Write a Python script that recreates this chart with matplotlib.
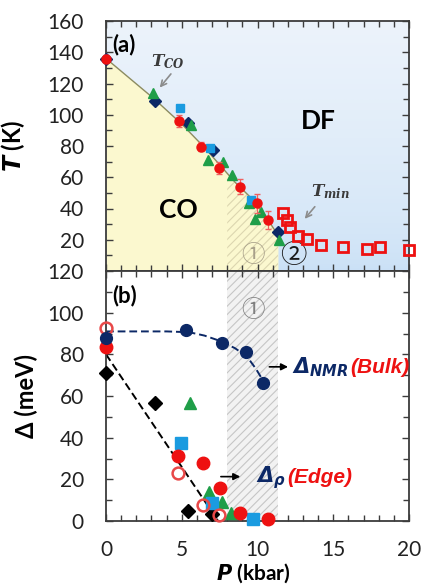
import numpy as np
import matplotlib
matplotlib.use('Agg')
import matplotlib.pyplot as plt
from matplotlib.colors import LinearSegmentedColormap
from matplotlib.ticker import MultipleLocator, FuncFormatter

# ---- panel (a): transition temperatures vs pressure
co_red_P = [0, 4.82, 6.3, 7.46, 8.84, 9.99, 10.67]
co_red_T = [136, 96, 79.5, 66, 54, 43.3, 32.6]
co_red_err = [2, 4, 3, 4, 5, 6, 6]
co_navy_P = [0, 3.23, 5.39, 7.08, 11.33]
co_navy_T = [136, 109, 95, 77.4, 24.8]
co_blue_P = [4.88, 6.86, 9.6]
co_blue_T = [104.5, 78.5, 45.4]
co_green_P = [3.08, 5.6, 6.75, 7.7, 8.29, 9.46, 9.83, 10.23, 11.42]
co_green_T = [114, 93.5, 71, 70, 61.5, 43.5, 33, 38, 20]
tmin_P = [11.7, 11.93, 12.15, 12.7, 13.25, 14.2, 15.66, 17.2, 18.1, 20.0]
tmin_T = [37, 32.6, 28.4, 22.6, 20.3, 16.6, 15.1, 14.3, 15.6, 13.4]
# guide line T_CO(P), boundary of the CO region
tco_line_P = [0, 3.2, 5, 6.5, 7.5, 8.5, 9.5, 10.5, 11.35]
tco_line_T = [136, 110, 94, 79, 68, 57, 47.5, 35.5, 23]
region1_P = [8.0, 11.35]

# ---- panel (b): gaps vs pressure
nmr_P = [0, 5.26, 7.63, 9.24, 10.34]
nmr_D = [87.7, 91.7, 85.3, 81, 66.1]
red_P = [0, 4.77, 6.38, 7.52, 8.84, 10.7]
red_D = [83.4, 31, 27.7, 15.7, 3.7, 1.0]
redopen_P = [0, 4.77, 6.38, 7.47]
redopen_D = [92.8, 22.9, 7.7, 2.9]
black_P = [0, 3.23, 5.43, 7.0]
black_D = [70.9, 56.5, 5, 3.4]
green_P = [5.54, 6.81, 7.63, 8.25]
green_D = [56.5, 14.1, 9.3, 4.0]
blue_P = [4.95, 6.97, 9.72]
blue_D = [37.6, 8.5, 0.8]
nmr_fit_P = [0, 2, 4, 5.5, 6.5, 7.5, 8.5, 9.3, 9.9, 10.4]
nmr_fit_D = [91, 91, 91, 90.6, 89, 86.5, 83, 79, 73, 67]
edge_fit_P = [0, 7.4]
edge_fit_D = [80, 0]

RED = '#ee1111'
NAVY = '#0c2866'
GREEN = '#1f9e48'
LBLUE = '#1a9be0'

plt.rcParams['font.family'] = ['Lato', 'DejaVu Sans']
plt.rcParams['mathtext.fontset'] = 'custom'
plt.rcParams['mathtext.it'] = 'DejaVu Serif:italic:bold'
plt.rcParams['mathtext.sf'] = 'DejaVu Sans:italic:bold'
plt.rcParams['mathtext.rm'] = 'DejaVu Sans:bold'
plt.rcParams['hatch.linewidth'] = 0.8

fig = plt.figure(figsize=(4.26, 5.88), dpi=100)
L, W, H = 106 / 426, 303 / 426, 250 / 588
ax1 = fig.add_axes([L, 1 - 271 / 588, W, H])
ax2 = fig.add_axes([L, 1 - 521 / 588, W, H])


def style_axis(ax, ymax):
    ax.set_xlim(0, 20)
    ax.set_ylim(0, ymax)
    ax.xaxis.set_major_locator(MultipleLocator(5))
    ax.xaxis.set_minor_locator(MultipleLocator(1))
    ax.yaxis.set_major_locator(MultipleLocator(20))
    ax.yaxis.set_minor_locator(MultipleLocator(10))
    ax.tick_params(which='both', direction='in', top=True, right=True,
                   color='#3c3c3c', width=1.0, labelsize=15, labelcolor='#222222')
    ax.tick_params(which='major', length=5)
    ax.tick_params(which='minor', length=4)
    ax.tick_params(axis='y', pad=16)
    ax.tick_params(axis='x', pad=14)
    for s in ax.spines.values():
        s.set_color('#3c3c3c')
        s.set_linewidth(1.3)


# ---------------- panel (a)
style_axis(ax1, 160)
ax1.tick_params(labelbottom=False)
ax1.yaxis.set_major_formatter(FuncFormatter(lambda v, p: '' if v == 0 else '%d' % v))

grad = np.linspace(0, 1, 256) ** 0.6
grad = np.vstack([grad, grad]).T
cmap = LinearSegmentedColormap.from_list('df', ['#c9e0f6', '#ecf3fb'])
ax1.imshow(grad, extent=[0, 20, 0, 160], aspect='auto', cmap=cmap,
           origin='lower', zorder=0)
ax1.fill_between(tco_line_P, 0, tco_line_T, color='#fbf8cf', lw=0, zorder=1)
ph = np.linspace(region1_P[0], region1_P[1], 40)
th = np.interp(ph, tco_line_P, tco_line_T)
ax1.fill_between(ph, 0, th, facecolor='none', hatch='////',
                 edgecolor='#dcd6b0', lw=0, zorder=1.5)
ax1.plot(tco_line_P, tco_line_T, color='#8c8c60', lw=1.0, zorder=2)

ax1.plot(co_navy_P, co_navy_T, 'D', color=NAVY, ms=6, clip_on=False, zorder=4)
ax1.plot(co_green_P, co_green_T, '^', color=GREEN, ms=6.5, clip_on=False, zorder=4)
ax1.plot(co_blue_P, co_blue_T, 's', color=LBLUE, ms=5.5, clip_on=False, zorder=4)
ax1.errorbar(co_red_P, co_red_T, yerr=co_red_err, fmt='o', color=RED, ms=6.5,
             ecolor='#f06060', elinewidth=0.9, capsize=2.5, clip_on=False, zorder=5)
ax1.plot(tmin_P, tmin_T, 's', mfc='none', mec=RED, mew=2, ms=7.5,
         clip_on=False, zorder=6)

ax1.text(0.4, 145, '(a)', fontsize=16, fontweight='bold', va='center', zorder=7)
ax1.text(4.1, 134, r'$T_{CO}$', fontsize=12, color='#3a3a3a', ha='center', va='center')
ax1.annotate('', xy=(3.43, 116), xytext=(4.4, 127.5),
             arrowprops=dict(arrowstyle='->', color='#8c8c8c', lw=1.2))
ax1.text(14.8, 51, r'$T_{min}$', fontsize=12, color='#3a3a3a', ha='center', va='center')
ax1.annotate('', xy=(13.0, 32), xytext=(13.9, 42.5),
             arrowprops=dict(arrowstyle='->', color='#8c8c8c', lw=1.2))
ax1.text(14.0, 96, 'DF', fontsize=19, fontweight='bold', ha='center', va='center')
ax1.text(4.75, 39, 'CO', fontsize=19, fontweight='bold', ha='center', va='center')
ax1.text(9.72, 9.6, '①', fontsize=17, color='#a8a08a', ha='center', va='center',
         family=['Noto Sans CJK JP', 'DejaVu Sans'])
ax1.text(12.36, 10.2, '②', fontsize=19, color='#1a1a1a', ha='center', va='center',
         family=['Noto Sans CJK JP', 'DejaVu Sans'])

ax1.set_ylabel(r'$\mathsf{T}$ (K)', fontsize=17, fontweight='bold')
ax1.yaxis.set_label_coords(-0.26, 0.5)

# ---------------- panel (b)
style_axis(ax2, 120)
ax2.axvspan(region1_P[0], region1_P[1], facecolor='#f2f2f2', hatch='////',
            edgecolor='#c6c6c6', lw=0, zorder=0)
ax2.plot(nmr_fit_P, nmr_fit_D, '--', color=NAVY, lw=1.4, dashes=(4, 2), zorder=2)
ax2.plot(edge_fit_P, edge_fit_D, '--', color='black', lw=1.4, dashes=(4, 2), zorder=2)

ax2.plot(black_P, black_D, 'D', color='black', ms=7.5, clip_on=False, zorder=4)
ax2.plot(green_P, green_D, '^', color=GREEN, ms=8.5, clip_on=False, zorder=4)
ax2.plot(blue_P, blue_D, 's', color=LBLUE, ms=8, clip_on=False, zorder=4)
ax2.plot(red_P, red_D, 'o', color=RED, ms=9, clip_on=False, zorder=5)
ax2.plot(redopen_P, redopen_D, 'o', mfc='none', mec='#e84848', mew=1.8, ms=8.5,
         clip_on=False, zorder=5)
ax2.plot(nmr_P, nmr_D, 'o', color=NAVY, ms=8.5, clip_on=False, zorder=6)

ax2.text(0.4, 108, '(b)', fontsize=16, fontweight='bold', va='center')
ax2.text(9.72, 101, '①', fontsize=17, color='#808080', ha='center', va='center',
         family=['Noto Sans CJK JP', 'DejaVu Sans'])

ax2.annotate('', xy=(12.2, 74), xytext=(10.6, 74),
             arrowprops=dict(arrowstyle='-|>', color='black', lw=1.2, mutation_scale=10))
ax2.annotate('', xy=(9.05, 21.3), xytext=(7.4, 21.3),
             arrowprops=dict(arrowstyle='-|>', color='black', lw=1.2, mutation_scale=10))
t_nmr = ax2.text(12.3, 71, r'$\mathsf{\Delta_{NMR}}$', fontsize=15, color=NAVY,
                 ha='left', va='baseline', clip_on=False)
t_rho = ax2.text(9.9, 18.4, r'$\mathsf{\Delta_{\rho}}$', fontsize=15, color=NAVY,
                 ha='left', va='baseline', clip_on=False)

ax2.set_ylabel('Δ (meV)', fontsize=17, fontweight='bold')
ax2.yaxis.set_label_coords(-0.224, 0.5)
ax2.set_xlabel(r'$\mathsf{P}$ (kbar)', fontsize=15, fontweight='bold', va='center')
ax2.xaxis.set_label_coords(0.485, -0.208)

fig.canvas.draw()
for t, word, pos in [(t_nmr, '(Bulk)', (12.3, 71)), (t_rho, '(Edge)', (9.9, 18.4))]:
    bb = t.get_window_extent()
    ax2.annotate(word, xy=pos, xycoords='data',
                 xytext=(bb.width * 72 / fig.dpi + 1, 0), textcoords='offset points',
                 fontsize=15, fontweight='bold', style='italic', color=RED,
                 family='Liberation Sans', ha='left', va='baseline',
                 annotation_clip=False)

fig.savefig('out.png', dpi=100)
